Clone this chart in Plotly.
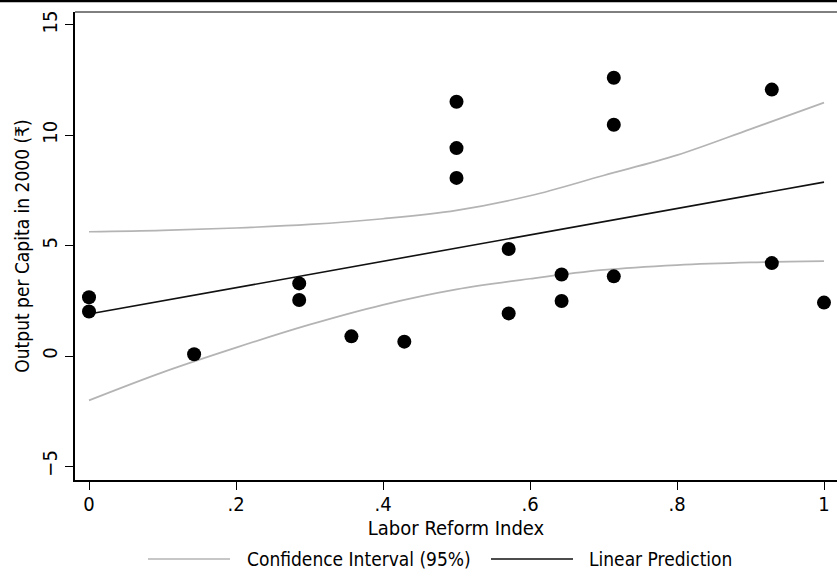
import plotly.graph_objects as go

# ---- data ----
reform_index = [0, 0, 0.143, 0.286, 0.286, 0.357, 0.429, 0.5, 0.5, 0.5,
                0.571, 0.571, 0.643, 0.643, 0.714, 0.714, 0.714, 0.929, 0.929, 1.0]
output_pc = [2.66, 2.02, 0.08, 3.29, 2.54, 0.89, 0.65, 11.52, 9.42, 8.07,
             4.85, 1.93, 3.69, 2.49, 12.61, 10.48, 3.61, 12.07, 4.21, 2.42]

fit_x = [0.0, 1.0]
fit_y = [1.90, 7.88]

ci_x = [0.0, 0.1, 0.2, 0.3, 0.4, 0.5, 0.6, 0.7, 0.8, 0.9, 1.0]
ci_upper = [5.63, 5.69, 5.80, 5.96, 6.22, 6.60, 7.26, 8.18, 9.10, 10.28, 11.48]
ci_lower = [-2.01, -0.74, 0.38, 1.42, 2.32, 3.02, 3.50, 3.90, 4.12, 4.24, 4.30]

x_tickvals = [0, 0.2, 0.4, 0.6, 0.8, 1.0]
x_ticktext = ["0", ".2", ".4", ".6", ".8", "1"]
y_tickvals = [-5, 0, 5, 10, 15]
y_ticktext = ["\u22125", "0", "5", "10", "15"]

FONT = "DejaVu Sans Condensed, Liberation Sans Narrow, sans-serif"
GRAY = "#b4b4b4"

fig = go.Figure()
fig.add_trace(go.Scatter(x=ci_x, y=ci_upper, mode="lines",
                         line=dict(color=GRAY, width=1.7, shape="spline", smoothing=1.0),
                         name="Confidence Interval (95%)", showlegend=False))
fig.add_trace(go.Scatter(x=ci_x, y=ci_lower, mode="lines",
                         line=dict(color=GRAY, width=1.7, shape="spline", smoothing=1.0),
                         showlegend=False))
fig.add_trace(go.Scatter(x=fit_x, y=fit_y, mode="lines",
                         line=dict(color="#111111", width=1.6),
                         name="Linear Prediction", showlegend=False))
fig.add_trace(go.Scatter(x=reform_index, y=output_pc, mode="markers",
                         marker=dict(color="black", size=14),
                         showlegend=False))

W, H = 837, 583
L, R, T, B = 75, 0, 12, 103
pw, ph = W - L - R, H - T - B

def px(x):
    return (x - L) / pw

def py(y):
    return (H - B - y) / ph

shapes = [
    dict(type="line", xref="paper", yref="paper", x0=0, x1=1, y0=1, y1=1,
         line=dict(color="black", width=1)),
    dict(type="line", xref="paper", yref="paper", x0=px(0), x1=px(W), y0=py(1), y1=py(1),
         line=dict(color="black", width=2.5)),
    dict(type="line", xref="paper", yref="paper", x0=px(148), x1=px(230), y0=py(559), y1=py(559),
         line=dict(color=GRAY, width=1.7)),
    dict(type="line", xref="paper", yref="paper", x0=px(491), x1=px(573), y0=py(559), y1=py(559),
         line=dict(color="#111111", width=1.6)),
]

annotations = [
    dict(text="Confidence Interval (95%)", xref="paper", yref="paper", x=px(245), y=py(559),
         xanchor="left", yanchor="middle", showarrow=False,
         font=dict(family=FONT, size=19, color="black")),
    dict(text="Linear Prediction", xref="paper", yref="paper", x=px(587), y=py(559),
         xanchor="left", yanchor="middle", showarrow=False,
         font=dict(family=FONT, size=19, color="black")),
]

fig.update_layout(
    width=W, height=H,
    margin=dict(l=L, r=R, t=T, b=B),
    paper_bgcolor="white", plot_bgcolor="white",
    font=dict(family=FONT, size=20, color="black"),
    shapes=shapes, annotations=annotations,
    showlegend=False,
)
fig.update_xaxes(range=[-0.01905, 1.01769], tickvals=x_tickvals, ticktext=x_ticktext,
                 showgrid=False, zeroline=False, showline=True, linecolor="black", linewidth=1.5,
                 ticks="outside", ticklen=8, tickwidth=1.2, tickcolor="black",
                 tickfont=dict(size=20), ticklabelstandoff=-3,
                 title=dict(text="Labor Reform Index", font=dict(size=20), standoff=0))
fig.update_yaxes(range=[-5.618, 15.587], tickvals=y_tickvals, ticktext=y_ticktext,
                 showgrid=False, zeroline=False, showline=True, linecolor="black", linewidth=1.5,
                 ticks="outside", ticklen=8, tickwidth=1.2, tickcolor="black",
                 tickangle=-90, tickfont=dict(size=20),
                 title=dict(text="Output per Capita in 2000 (\u20b9)", font=dict(size=19), standoff=4))

fig.write_html("out.html", config={"displayModeBar": False},
               post_script="document.body.style.margin='0';document.body.style.overflow='hidden';")
